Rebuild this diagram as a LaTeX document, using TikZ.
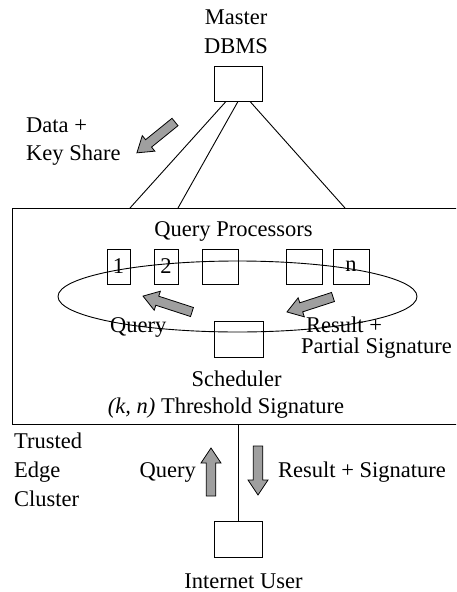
\documentclass[tikz,border=0pt]{standalone}
\usepackage{fontspec}
\setmainfont{Liberation Serif}
\begin{document}
\begin{tikzpicture}[x=1pt,y=-1pt,line join=miter,
    lbl/.style={font=\fontsize{22.5}{29}\selectfont,inner sep=0pt},
    box/.style={draw,line width=0.9pt,inner sep=0pt,minimum height=35pt,font=\fontsize{22.5}{29}\selectfont},
    link/.style={line width=0.9pt}]
    \tikzset{garrow/.style={draw,line width=0.8pt,fill=gray!75}}
    % gray block arrow: tail, angle, length
    \def\blockarrow#1#2#3{\draw[garrow,shift={#1},rotate=#2] (0,-4.75)--({#3-15},-4.75)--({#3-15},-10)--(#3,0)--({#3-15},10)--({#3-15},4.75)--(0,4.75)--cycle;}
    \clip (0,0) rectangle (456,592);
    % master
    \node[lbl,align=center,anchor=base] (mastertxt) at (236,53) {Master\\DBMS};
    \node[box,minimum width=48pt] (master) at (238,83.5) {};
    \node[lbl,align=left,anchor=base west] (datatxt) at (26,160) {Data +\\[-1.7pt]Key Share};
    \blockarrow{(175,122)}{219}{49}
    % edge cluster
    \node[draw,link,inner sep=0pt,minimum width=470pt,minimum height=216pt,anchor=north west] (cluster) at (12,208) {};
    \draw[link] ([xshift=-12pt]master.south) -- ([xshift=118pt]cluster.north west);
    \draw[link] (master.south) -- ([xshift=166pt]cluster.north west);
    \draw[link] ([xshift=12pt]master.south) -- ([xshift=333pt]cluster.north west);
    \node[lbl,anchor=base] (qptxt) at (233.5,236) {Query Processors};
    \node[box,minimum width=23pt] (p1) at (118.5,266.5) {1};
    \node[box,minimum width=24pt] (p2) at (166,266.5) {2};
    \node[box,minimum width=36pt] (p3) at (220,266.5) {};
    \node[box,minimum width=36pt] (p4) at (304,266.5) {};
    \node[box,minimum width=36pt] (p5) at (351,266.5) {n};
    \coordinate (ring) at (237.5,296.5);
    \draw[link] (ring) ellipse [x radius=179.5, y radius=35.5];
    \blockarrow{(192,312)}{162}{51.5}
    \blockarrow{(333,297)}{198}{48.4}
    \node[lbl,anchor=base west] (qtxt) at (110,332) {Query};
    \node[lbl,anchor=base west] (rtxt) at (306,332) {Result +};
    \node[lbl,anchor=base west] (pstxt) at (301,353) {Partial Signature};
    \node[box,minimum width=49pt,minimum height=36pt] (sched) at (238.5,339) {};
    \node[lbl,anchor=base] (schedtxt) at (236.5,386.7) {Scheduler};
    \node[lbl,anchor=base] (thrtxt) at (226,413.3) {\textit{(k, n)} Threshold Signature};
    \node[lbl,align=left,anchor=base west] (tectxt) at (14,506.7) {Trusted\\Edge\\Cluster};
    % internet user
    \node[box,minimum width=48pt,minimum height=36pt] (user) at (238,539) {};
    \draw[link] (user.north) -- (user.north |- cluster.south);
    \blockarrow{(211,496)}{90}{48}
    \blockarrow{(258,446)}{270}{49}
    \node[lbl,anchor=base east] (uqtxt) at (196,477) {Query};
    \node[lbl,anchor=base west] (urtxt) at (278,477) {Result + Signature};
    \node[lbl,anchor=base,text depth=0pt] (usertxt) at (243.5,588) {Internet User};
\end{tikzpicture}
\end{document}
